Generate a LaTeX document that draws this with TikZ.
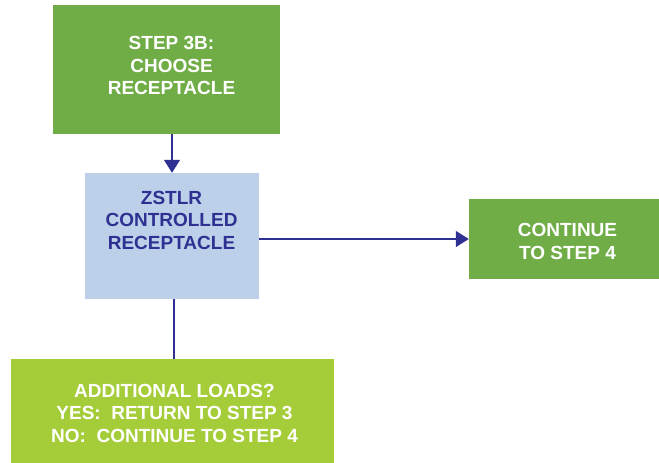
\documentclass[tikz,border=0pt]{standalone}
\usepackage{fontspec}
\setmainfont{Liberation Sans}
\usepackage{tikz}
\usepackage{xcolor}
\usetikzlibrary{arrows.meta,positioning}

\definecolor{stepgreen}{HTML}{70AD47}
\definecolor{limegreen}{HTML}{A5CD39}
\definecolor{paleblue}{HTML}{BDD0E9}
\definecolor{navyblue}{HTML}{2E3192}

\tikzset{
  boxshape/.style={rectangle,draw=none,inner sep=0pt},
  boxtext/.style={align=center,inner sep=0pt,font=\bfseries\fontsize{19}{22.5}\selectfont},
  flowarrow/.style={-{Triangle[length=13pt,width=16pt]},line width=1.5pt,draw=navyblue},
  flowline/.style={line width=1.5pt,draw=navyblue}
}

\begin{document}
\begin{tikzpicture}[x=1pt,y=1pt]
    \useasboundingbox (0,0) rectangle (659,-463);

    % Step 3B
    \node[boxshape,fill=stepgreen,minimum width=227pt,minimum height=129pt] (choose) at (166.5,-69.5) {};
    \node[boxtext,text=white] (choosetext) at (171.5,-65.5) {STEP 3B:\\CHOOSE\\RECEPTACLE};

    % Controlled receptacle
    \node[boxshape,fill=paleblue,minimum width=174pt,minimum height=126pt] (zstlr) at (172,-236) {};
    \node[boxtext,text=navyblue] (zstlrtext) at (171.5,-220) {ZSTLR\\CONTROLLED\\RECEPTACLE};

    % Continue
    \node[boxshape,fill=stepgreen,minimum width=190pt,minimum height=80pt] (cont) at (564,-239) {};
    \node[boxtext,text=white] (conttext) at (567.5,-241.5) {CONTINUE\\TO STEP 4};

    % Additional loads
    \node[boxshape,fill=limegreen,minimum width=323pt,minimum height=104pt] (loads) at (172.5,-411) {};
    \node[boxtext,text=white] (loadstext) at (174.5,-413) {ADDITIONAL LOADS?\\YES:\ \ RETURN TO STEP 3\\NO:\ \ CONTINUE TO STEP 4};

    % Connectors
    \draw[flowarrow] (choose.south -| zstlr.north) -- (zstlr.north);
    \draw[flowarrow] (zstlr.east |- cont.west) -- (cont.west);
    \draw[flowline] ([xshift=2pt]zstlr.south) -- ([xshift=2pt]zstlr.south |- loads.north);
\end{tikzpicture}
\end{document}
